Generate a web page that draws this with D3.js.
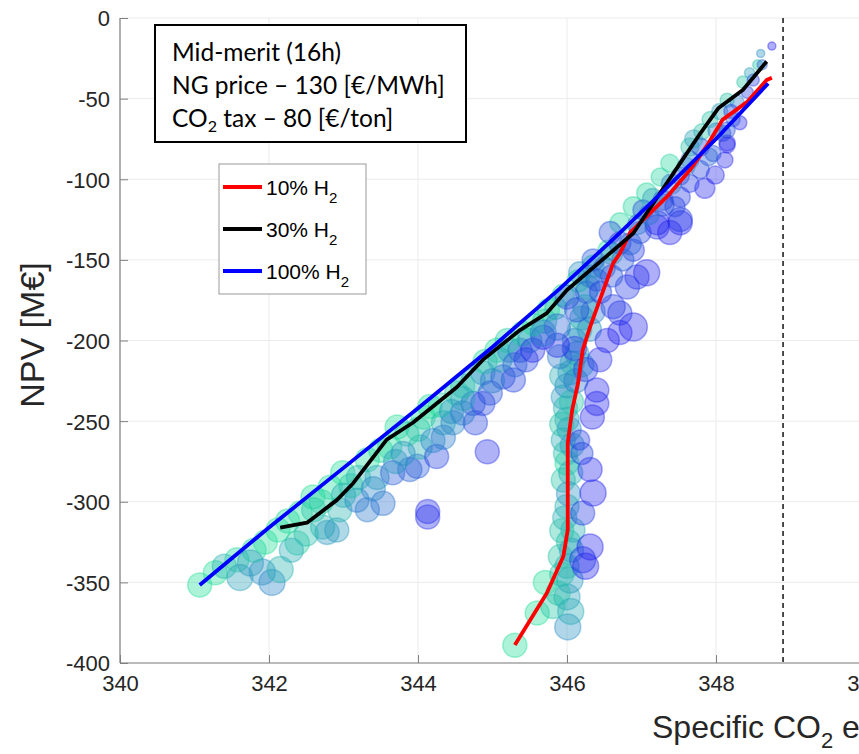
<!DOCTYPE html>
<html>
<head>
<meta charset="utf-8">
<script src="https://cdn.jsdelivr.net/npm/d3@7"></script>
<style>
  body { margin: 0; background: #fff; }
  svg { display: block; }
  svg text { font-family: "Liberation Sans", Arial, sans-serif; }
</style>
</head>
<body>
<div id="chart"></div>
<script>
// x ticks / y ticks
const xTicks = [340, 342, 344, 346, 348, 350];
const yTicks = [0, -50, -100, -150, -200, -250, -300, -350, -400];
const refLineX = 348.9;

// bubbles: [specific CO2, NPV, size, colour value (0 green .. 1 blue)]
const diagBubbles = [
  [341.07,-351.6,12,0.05],[341.28,-344,12,0.05],[341.57,-336,12,0.08],[341.61,-347,13,0.4],
  [341.91,-343.5,13,0.5],[342.04,-350,13,0.55],[342.15,-342,13,0.3],[341.95,-325,12,0.05],
  [342.12,-317.5,12,0.05],[342.38,-325.6,12,0.15],[342.42,-307,12,0.05],[342.59,-297,12,0.05],
  [342.72,-315.7,12,0.3],[342.91,-317.5,12,0.45],[342.78,-319,12,0.45],[342.82,-291,12,0.05],
  [342.99,-282,12,0.05],[342.95,-305,12,0.3],[343.18,-299,12,0.6],[343.32,-305,12,0.6],
  [343.32,-274,12,0.05],[343.53,-301,12,0.65],[343.45,-285,12,0.4],[343.62,-266,12,0.05],
  [343.66,-282,12,0.75],[343.72,-253.6,12,0.05],[343.89,-280,12,0.7],[343.99,-278,12,0.75],
  [344.07,-247.5,12,0.05],[344.03,-266,12,0.3],[344.25,-272,12,0.85],[344.16,-241,12,0.05],
  [344.13,-306,12,0.95],[344.13,-309.5,12,0.95],[344.34,-251,12,0.3],[344.34,-260,12,0.6],
  [344.47,-251,12,0.55],[344.52,-232.6,12,0.1],[344.74,-239,12,0.8],[344.77,-251,12,0.85],
  [344.87,-239,12,0.85],[344.93,-269,12,0.95],[344.74,-224.5,12,0.35],[344.87,-220,12,0.5],
  [344.97,-232.6,12,0.8],[345.06,-206,12,0.05],[345.14,-222.6,12,0.8],[345.28,-224.5,12,0.85],
  [345.23,-206,12,0.55],[345.37,-206,12,0.8],[345.41,-195.5,12,0.05],
  [341.8,-330,12,0.1],[342.25,-312,12,0.1],[342.6,-305,12,0.2],[343.1,-290,12,0.15],
  [343.5,-268,12,0.1],[343.85,-258,12,0.15],[344.3,-240,12,0.1],[344.6,-228,12,0.2],
  [344.9,-213,12,0.1],[345.2,-200,12,0.15],[343.0,-296,12,0.35],[343.7,-275,12,0.45],
  [344.45,-244,12,0.5],[345.0,-225,12,0.6],
  [341.4,-340,12,0.3],[341.75,-338,13,0.45],[342.3,-330,12,0.35],[342.5,-320,12,0.25],
  [342.7,-300,12,0.15],[343.2,-285,12,0.3],[343.4,-292,12,0.55],[343.8,-270,12,0.5],
  [344.0,-255,12,0.2],[344.2,-262,12,0.55],[344.6,-245,12,0.6],[344.6,-236,12,0.4],
  [345.1,-212,12,0.4],[345.3,-215,12,0.7],[345.5,-200,12,0.5],[345.45,-212,12,0.85],
  [345.7,-188,12,0.3],[345.85,-180,11,0.3]
];

const upperBubbles = [
  [345.55,-190,11,0.05],[345.75,-181,11,0.05],[345.95,-172,11,0.08],[346.15,-163,11,0.05],
  [346.35,-154,11,0.08],[346.55,-144,10,0.05],[346.71,-127,10,0.1],[346.89,-117,10,0.1],
  [347.07,-108.5,10,0.1],[347.25,-98.6,9,0.1],[347.38,-90,9,0.1],[347.65,-80,9,0.2],
  [347.81,-70.6,8,0.2],[347.92,-63,8,0.2],[348.15,-51,7,0.2],[348.36,-39.7,6,0.2],
  [348.56,-29,5,0.2],
  [346.89,-191.6,14,1],[347.07,-158,13,1],[347.21,-129.6,12,0.95],[347.38,-133,12,1],
  [347.52,-127,12,1],[347.85,-105.6,10,1],[347.99,-97.4,9,1],[348.12,-88,8,1],
  [348.15,-77.5,8,1],[346.81,-166.8,12,0.9],[346.94,-160.6,12,0.95],[346.62,-179,12,0.9],
  [346.0,-173,12,0.8],[346.13,-181,12,0.85],[345.87,-191.6,13,0.7],[345.68,-195.5,13,0.6],
  [346.71,-195,12,1],[346.54,-200,12,1],[346.58,-133,11,0.8],[346.71,-139.5,11,0.85],
  [346.89,-144,11,0.9],[346.98,-133,11,0.85],[347.02,-119,10,0.8],[347.29,-113,10,0.85],
  [347.52,-111,10,0.9],[347.65,-102.6,9,0.9],[347.79,-94,9,0.85],[347.96,-84,8,0.8],
  [348.09,-71.5,8,0.8],[348.23,-63,7,0.7],[346.35,-150,11,0.75],[346.40,-162.5,11,0.85],
  [346.17,-158,11,0.5],[346.26,-170,11,0.7],
  [348.75,-17.4,4,1],[348.62,-29,5,0.7],[348.50,-38.5,6,0.9],[348.28,-52,7,0.6],
  [348.42,-46,6,0.9],[348.32,-65,7,1],[348.15,-69.5,8,0.8],[348.15,-78.8,8,1],
  [347.65,-88,9,0.6],[347.52,-98,9,0.8],[347.79,-80,9,0.9],[347.52,-125,12,0.9],
  [347.21,-127,12,1],[347.29,-116,11,0.8],
  [346.3,-160,11,0.6],[346.5,-155,11,0.7],[346.45,-170,11,0.85],[346.6,-160,11,0.8],
  [346.75,-150,11,0.75],[346.85,-140,11,0.7],[346.6,-146,11,0.5],[346.95,-128,10,0.6],
  [347.1,-122,10,0.6],[347.15,-112,10,0.4],[347.4,-103,10,0.6],[347.45,-117,10,0.85],
  [347.6,-92,9,0.5],[347.7,-75,9,0.4],[347.9,-86,9,0.7],[348.0,-70,8,0.6],
  [348.05,-58,8,0.4],[348.2,-58,7,0.9],[348.45,-34,5,0.4],[348.6,-22,4,0.5]
];

const columnBubbles = [
  [346.01,-377.6,13,0.5],[346.0,-359,13,0.4],[346.04,-348.5,13,0.45],[345.91,-334,12,0.2],
  [345.71,-350,12,0.05],[345.60,-369,12,0.05],[345.88,-356.6,12,0.2],[345.30,-389,12,0.05],
  [345.81,-365,12,0.2],[346.08,-317.5,12,0.35],[346.0,-303,12,0.3],[345.95,-286.5,12,0.2],
  [346.0,-276,12,0.1],[345.95,-261.7,12,0.35],[346.0,-249,12,0.4],[345.95,-235,12,0.45],
  [346.04,-220,12,0.45],[346.13,-208,12,0.45],[346.17,-193.5,12,0.3],[346.24,-179,12,0.2],
  [346.28,-167,12,0.3],[346.0,-340,12,0.3],[346.02,-325,12,0.25],[345.97,-310,12,0.35],
  [346.02,-295,12,0.5],[345.98,-270,12,0.25],[346.03,-255,12,0.5],[345.98,-242,12,0.3],
  [346.0,-228,12,0.55],[346.07,-214,12,0.3],[346.1,-200,12,0.55],[346.2,-186,12,0.35],
  [346.05,-368,13,0.35],
  [345.93,-345,12,0.25],[346.06,-330,12,0.4],[345.93,-318,12,0.2],[346.05,-282,12,0.35],
  [345.93,-252,12,0.2],[346.07,-265,12,0.4],[345.93,-222,12,0.35],[346.06,-238,12,0.2],
  [346.12,-225,12,0.6],[346.2,-215,12,0.3],[345.9,-210,12,0.6],[346.3,-193,12,0.5],
  [346.35,-182,12,0.6],
  [346.21,-336,13,0.9],[346.31,-328,13,1],[346.35,-294.6,13,1],[346.31,-280,12,1],
  [346.21,-307,12,0.9],[346.40,-230.7,12,1],[346.40,-239,12,1],[346.34,-247.4,12,1],
  [346.17,-261.7,10,0.9],[346.44,-212,12,0.95],[346.71,-183,12,0.9],[345.68,-198,12,0.95],
  [345.87,-203,12,0.95],[346.1,-205,12,0.9],[345.54,-206,12,0.95],[346.25,-340,13,1],
  [346.2,-270,11,0.85],[346.25,-218,12,0.9]
];

// fitted lines
const h2_10 = [
  [345.30,-388.8],[345.73,-356.6],[345.95,-334],[346.01,-317.5],[346.01,-263.6],
  [346.07,-243],[346.15,-226],[346.21,-206],[346.31,-191.6],[346.44,-175],[346.62,-152],
  [346.71,-146],[346.85,-133],[347.07,-123],[347.34,-111],[347.65,-94.3],[347.87,-79.8],
  [348.09,-63],[348.42,-52],[348.68,-38.5],[348.75,-37]
];
const h2_30 = [
  [342.15,-316],[342.51,-313],[342.91,-299],[343.13,-288.5],[343.58,-261.5],[343.93,-251],
  [344.52,-229],[344.87,-212],[345.37,-193.5],[345.73,-183],[346.0,-168.7],[346.89,-133.5],
  [347.25,-108.5],[347.52,-90],[347.79,-71.5],[348.03,-56],[348.36,-44.6],[348.68,-27]
];
const h2_100 = [
  [341.07,-351.6],[342,-316],[343,-279],[344,-242],[345,-204],[345.9,-168],[346.6,-138],
  [347.3,-107],[348,-75],[348.7,-40.6]
];

const seriesNames = ["10% H", "30% H", "100% H"];
const seriesColors = ["#ff0000", "#000000", "#0000ff"];

const W = 859, H = 754;
const x = d3.scaleLinear().domain([340, 350]).range([120, 865]);
const y = d3.scaleLinear().domain([-400, 0]).range([663, 18]);
const rScale = d3.scaleLinear().domain([0, 14]).range([0, 14]);
const col = d3.scaleLinear().domain([0, 0.5, 1]).range(["#1ee892", "#2a8fc4", "#2424ee"]);
const sans = "'Liberation Sans', Arial, sans-serif";

const svg = d3.select("#chart").append("svg").attr("width", W).attr("height", H);

svg.append("defs").append("clipPath").attr("id", "plotclip")
  .append("rect").attr("x", 120).attr("y", 18).attr("width", 745).attr("height", 645);

// grid
const grid = svg.append("g");
grid.selectAll(".gx").data(xTicks).enter().append("line")
  .attr("x1", d => x(d)).attr("x2", d => x(d)).attr("y1", 18).attr("y2", 663)
  .attr("stroke", "#ebebeb").attr("stroke-width", 1);
grid.selectAll(".gy").data(yTicks).enter().append("line")
  .attr("x1", 120).attr("x2", 865).attr("y1", d => y(d)).attr("y2", d => y(d))
  .attr("stroke", "#ebebeb").attr("stroke-width", 1);

// bubbles
const plot = svg.append("g").attr("clip-path", "url(#plotclip)");
const allBubbles = diagBubbles.concat(columnBubbles, upperBubbles);
plot.selectAll("circle").data(allBubbles).enter().append("circle")
  .attr("cx", d => x(d[0])).attr("cy", d => y(d[1])).attr("r", d => rScale(d[2]))
  .attr("fill", d => col(d[3])).attr("fill-opacity", 0.37)
  .attr("stroke", d => col(d[3])).attr("stroke-opacity", 0.4).attr("stroke-width", 1.5);

// dashed reference
plot.append("line")
  .attr("x1", x(refLineX)).attr("x2", x(refLineX)).attr("y1", 18).attr("y2", 663)
  .attr("stroke", "#222").attr("stroke-width", 1.6).attr("stroke-dasharray", "5,4");

// lines
const line = d3.line().x(d => x(d[0])).y(d => y(d[1]));
[h2_10, h2_30, h2_100].forEach((s, i) => {
  plot.append("path").datum(s).attr("d", line)
    .attr("fill", "none").attr("stroke", seriesColors[i])
    .attr("stroke-width", 3.8).attr("stroke-linejoin", "round");
});

// axes
const fmt = d => String(d);
const yAxis = d3.axisLeft(y).tickValues(yTicks).tickFormat(fmt).tickSize(-8).tickPadding(10);
const gy = svg.append("g").attr("transform", "translate(120,0)").call(yAxis);
const xAxis = d3.axisBottom(x).tickValues(xTicks).tickFormat(fmt).tickSize(-8).tickPadding(12);
const gx = svg.append("g").attr("transform", "translate(0,663)").call(xAxis);
[gx, gy].forEach(g => {
  g.attr("font-family", null);
  g.select(".domain").attr("stroke", "#808080").attr("stroke-width", 1.2);
  g.selectAll(".tick line").attr("stroke", "#808080");
  g.selectAll(".tick text").attr("fill", "#262626")
    .style("font-size", "22px").style("font-family", sans);
});
gx.select(".domain").attr("d", "M120,0H865");
gy.select(".domain").attr("d", "M0,663V18");
gy.selectAll(".tick text").attr("dy", "0.36em");
gx.selectAll(".tick text").attr("dy", "0.71em");

// axis labels
svg.append("text")
  .attr("transform", "translate(44,335) rotate(-90)")
  .attr("text-anchor", "middle").attr("fill", "#262626")
  .style("font-family", sans).style("font-size", "34px").text("NPV [M€]");
const xl = svg.append("text").attr("x", 652).attr("y", 738).attr("fill", "#262626")
  .style("font-family", sans).style("font-size", "32px");
xl.append("tspan").text("Specific CO");
xl.append("tspan").attr("dy", 10).style("font-size", "22px").text("2");
xl.append("tspan").attr("dy", -10).text(" emissions [kg/MWh]");

// annotation box
const ann = svg.append("g");
ann.append("rect").attr("x", 155).attr("y", 25).attr("width", 311).attr("height", 117)
  .attr("fill", "#fff").attr("stroke", "#000").attr("stroke-width", 2);
const annFont = "Lato, 'Open Sans', sans-serif";
ann.append("text").attr("x", 172).attr("y", 61).style("font-family", annFont)
  .style("font-size", "24.5px").text("Mid-merit (16h)");
ann.append("text").attr("x", 172).attr("y", 94).style("font-family", annFont)
  .style("font-size", "24.5px").text("NG price – 130 [€/MWh]");
const t3 = ann.append("text").attr("x", 172).attr("y", 127).style("font-family", annFont)
  .style("font-size", "24.5px");
t3.append("tspan").text("CO");
t3.append("tspan").attr("dy", 5).style("font-size", "16px").text("2");
t3.append("tspan").attr("dy", -5).text(" tax – 80 [€/ton]");

// legend
const leg = svg.append("g");
leg.append("rect").attr("x", 219).attr("y", 164).attr("width", 147).attr("height", 130)
  .attr("fill", "#fff").attr("stroke", "#999").attr("stroke-width", 1);
seriesNames.forEach((n, i) => {
  const ly = 187 + i * 42;
  leg.append("line").attr("x1", 223).attr("x2", 262).attr("y1", ly).attr("y2", ly)
    .attr("stroke", seriesColors[i]).attr("stroke-width", 3.8);
  const t = leg.append("text").attr("x", 266).attr("y", ly + 8).attr("fill", "#000")
    .style("font-family", sans).style("font-size", "21px");
  t.append("tspan").text(n);
  t.append("tspan").attr("dy", 8).style("font-size", "15px").text("2");
});
</script>
</body>
</html>
